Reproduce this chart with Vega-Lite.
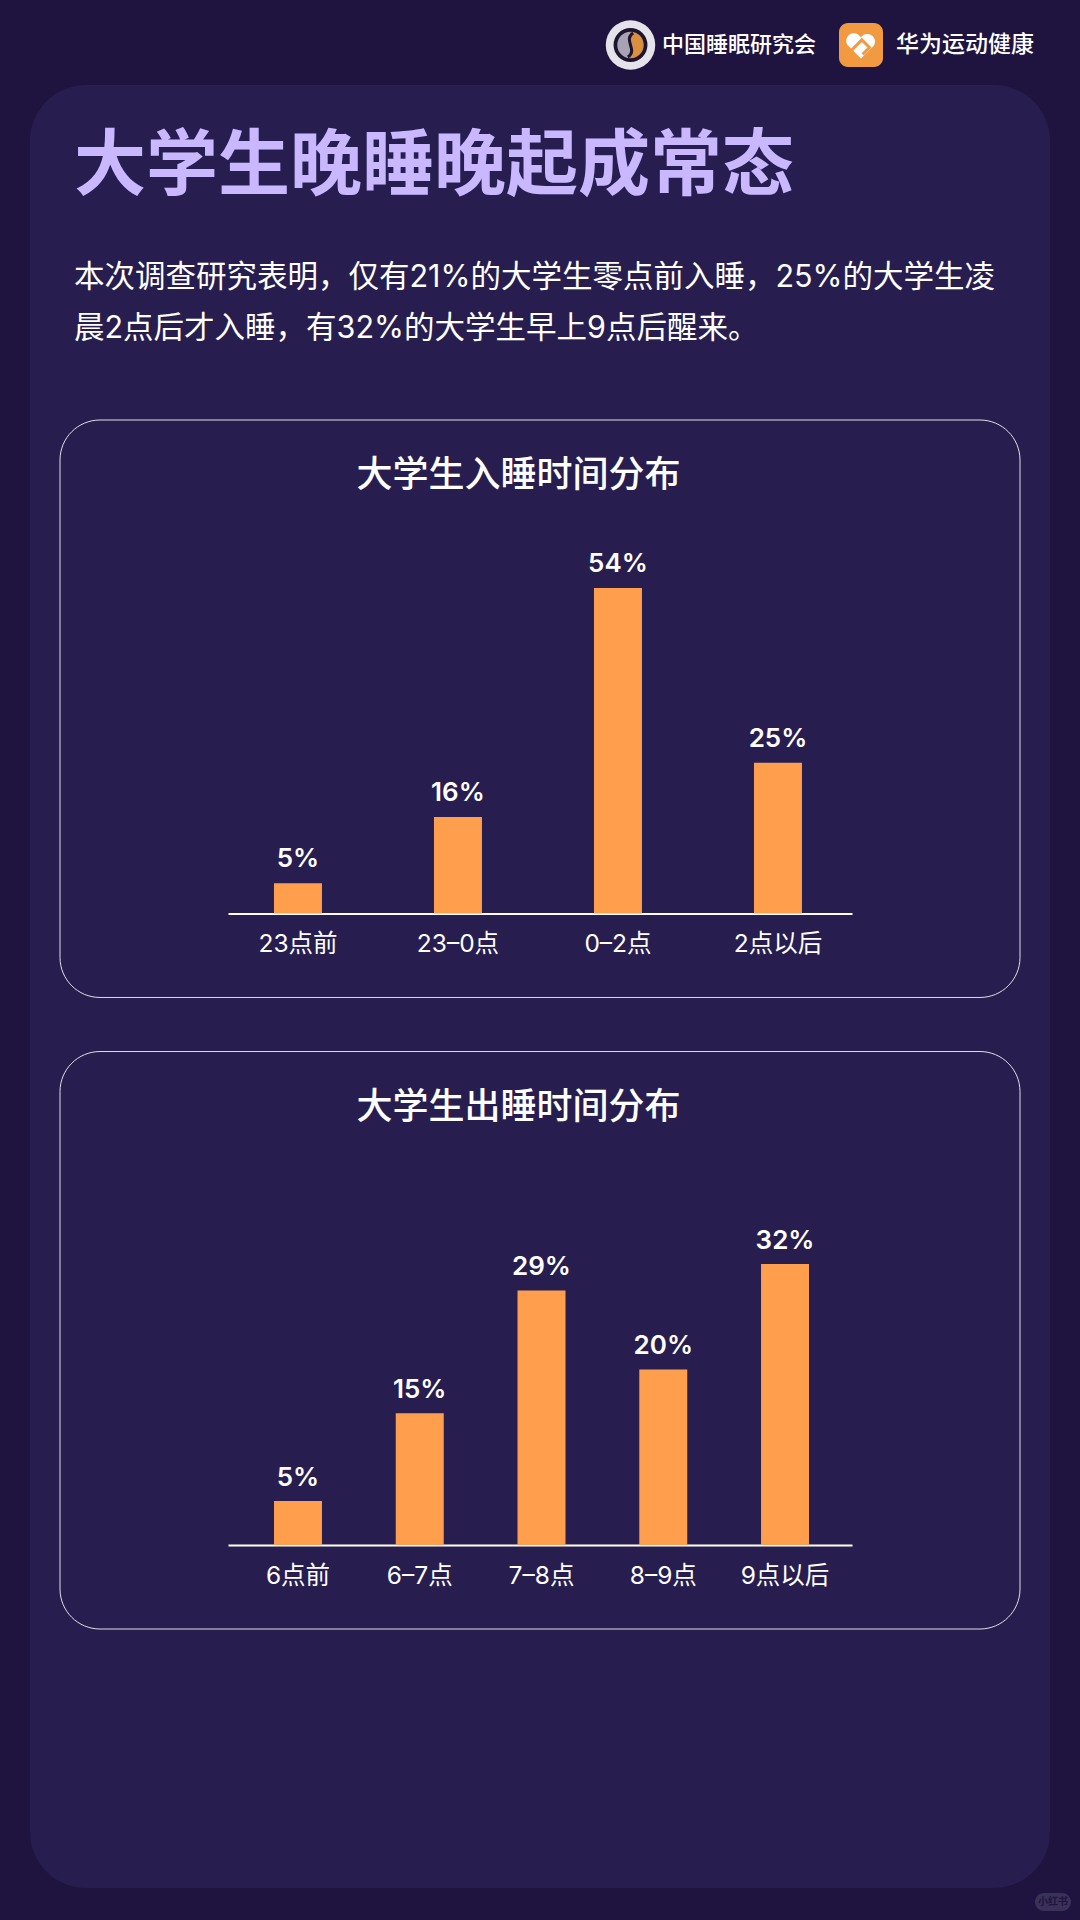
{
  "$schema": "https://vega.github.io/schema/vega-lite/v6.json",
  "width": 1020,
  "height": 1803,
  "autosize": {"type": "none"},
  "padding": {"left": 30, "right": 30, "top": 85, "bottom": 32},
  "background": "#1f1440",
  "view": {"fill": "#271e4f", "stroke": null, "cornerRadius": 56},
  "title": {
    "text": "大学生晚睡晚起成常态",
    "subtitle": ["本次调查研究表明，仅有21%的大学生零点前入睡，25%的大学生凌", "晨2点后才入睡，有32%的大学生早上9点后醒来。"],
    "anchor": "start",
    "frame": "group",
    "orient": "top",
    "offset": -325,
    "dx": 44,
    "font": "Noto Sans CJK SC",
    "fontSize": 72,
    "fontWeight": 700,
    "color": "#c9b8ff",
    "subtitleFont": "Inter, Noto Sans CJK SC",
    "subtitleFontSize": 30.5,
    "subtitleColor": "#ffffff",
    "subtitleLineHeight": 51,
    "subtitlePadding": 59
  },
  "config": {
    "font": "Inter, Noto Sans CJK SC",
    "axis": {
      "grid": false,
      "ticks": false,
      "domainColor": "#ffffff",
      "domainWidth": 2,
      "labelColor": "#ffffff",
      "labelFontSize": 24.5,
      "labelPadding": 19,
      "labelAngle": 0,
      "labelFont": "Inter, Noto Sans CJK SC",
      "titleColor": "#ffffff",
      "titleFontSize": 36,
      "titleFontWeight": 500,
      "titleFont": "Noto Sans CJK SC",
      "titleBaseline": "middle",
      "titleAlign": "center"
    }
  },
  "resolve": {
    "scale": {"x": "independent", "y": "independent", "size": "independent"},
    "axis": {"x": "independent", "y": "independent"}
  },
  "layer": [
    {
      "data": {"values": [{"card": "入睡", "frame": "卡片"}, {"card": "出睡", "frame": "卡片"}]},
      "mark": {"type": "rect", "fill": null, "stroke": "#ffffff", "strokeWidth": 1, "strokeOpacity": 0.85, "cornerRadius": 40},
      "encoding": {
        "x": {"field": "frame", "type": "nominal", "axis": null, "scale": {"type": "band", "range": [30, 990], "padding": 0}},
        "y": {"field": "card", "type": "nominal", "axis": null, "sort": null, "scale": {"type": "band", "range": [335, 1544], "paddingInner": 0.0856, "paddingOuter": 0}}
      }
    },
    {
      "data": {"values": [
        {"time": "23点前", "share": 0.05},
        {"time": "23–0点", "share": 0.16},
        {"time": "0–2点", "share": 0.54},
        {"time": "2点以后", "share": 0.25}
      ]},
      "encoding": {
        "x": {
          "field": "time",
          "type": "nominal",
          "sort": null,
          "scale": {"type": "band", "range": [198, 822], "paddingInner": 0.7, "paddingOuter": 0.3, "align": 0.479},
          "axis": {"title": "大学生入睡时间分布", "orient": "bottom", "offset": -974.5, "titleX": 488, "titleY": -438}
        },
        "y": {"field": "share", "type": "quantitative", "axis": null, "scale": {"domain": [0, 1], "range": [828.5, 225.5], "nice": false}}
      },
      "layer": [
        {"mark": {"type": "bar", "color": "#ff9f4d"}},
        {
          "mark": {"type": "text", "color": "#ffffff", "fontSize": 26, "fontWeight": 600, "baseline": "middle", "dy": -24},
          "encoding": {"text": {"field": "share", "type": "quantitative", "format": ".0%"}}
        }
      ]
    },
    {
      "data": {"values": [
        {"time": "6点前", "share": 0.05},
        {"time": "6–7点", "share": 0.15},
        {"time": "7–8点", "share": 0.29},
        {"time": "8–9点", "share": 0.20},
        {"time": "9点以后", "share": 0.32}
      ]},
      "encoding": {
        "x": {
          "field": "time",
          "type": "nominal",
          "sort": null,
          "scale": {"type": "band", "range": [198, 822], "paddingInner": 0.606, "paddingOuter": 0.3655, "align": 0.517},
          "axis": {"title": "大学生出睡时间分布", "orient": "bottom", "offset": -343, "titleX": 488, "titleY": -438}
        },
        "y": {"field": "share", "type": "quantitative", "axis": null, "scale": {"domain": [0, 1], "range": [1460, 582], "nice": false}}
      },
      "layer": [
        {"mark": {"type": "bar", "color": "#ff9f4d"}},
        {
          "mark": {"type": "text", "color": "#ffffff", "fontSize": 26, "fontWeight": 600, "baseline": "middle", "dy": -23},
          "encoding": {"text": {"field": "share", "type": "quantitative", "format": ".0%"}}
        }
      ]
    },
    {
      "data": {"values": [{"org": "中国睡眠研究会"}, {"org": "华为运动健康"}]},
      "mark": {"type": "text", "color": "#ffffff", "fontWeight": 500, "align": "left", "baseline": "middle"},
      "encoding": {
        "x": {"field": "org", "type": "nominal", "sort": null, "axis": null, "scale": {"type": "point", "padding": 0, "range": [632, 866]}},
        "y": {"field": "org", "type": "nominal", "axis": null, "scale": {"type": "point", "padding": 0, "range": [-40, -40]}},
        "size": {"field": "org", "type": "nominal", "sort": null, "legend": null, "scale": {"type": "ordinal", "range": [22, 23]}},
        "text": {"field": "org"}
      }
    },
    {
      "data": {"values": [{"org": "中国睡眠研究会"}]},
      "encoding": {
        "x": {"field": "org", "type": "nominal", "axis": null, "scale": {"type": "point", "padding": 0, "range": [600.5, 600.5]}},
        "y": {"field": "org", "type": "nominal", "axis": null, "scale": {"type": "point", "padding": 0, "range": [-40, -40]}}
      },
      "layer": [
        {"mark": {"type": "point", "shape": "circle", "filled": true, "color": "#e6e2ea", "size": 2450, "opacity": 1}},
        {"mark": {"type": "point", "shape": "circle", "filled": true, "color": "#1c1530", "size": 1150, "opacity": 1}},
        {"mark": {"type": "point", "shape": "M0,-1A1,1 0 0 0 0,1Z", "filled": true, "color": "#a8a2b4", "size": 700, "opacity": 1}},
        {"mark": {"type": "point", "shape": "M0,-1A1,1 0 0 1 0,1Z", "filled": true, "color": "#d98f3f", "size": 700, "opacity": 1}},
        {"mark": {"type": "point", "shape": "M0.2,-0.9C-0.6,-0.4 0.6,0.4 -0.2,0.9", "filled": false, "color": "#1c1530", "strokeWidth": 3, "size": 700, "opacity": 1}}
      ]
    },
    {
      "data": {"values": [{"org": "华为运动健康"}]},
      "encoding": {
        "x": {"field": "org", "type": "nominal", "axis": null, "scale": {"type": "band", "padding": 0, "range": [809, 853]}},
        "y": {"field": "org", "type": "nominal", "axis": null, "scale": {"type": "band", "padding": 0, "range": [-62, -18]}}
      },
      "layer": [
        {"mark": {"type": "rect", "fill": "#f19a42", "cornerRadius": 9}},
        {"mark": {"type": "point", "shape": "M0,0.8L-0.75,0.05A0.42,0.42 0 0 1 -0.1,-0.55L0,-0.45A0.42,0.42 0 0 1 0.75,0.05Z", "filled": true, "color": "#ffffff", "size": 1150, "opacity": 1}},
        {"mark": {"type": "point", "shape": "M-0.55,0.3L0.05,-0.3L0.5,0.15L0.1,0.55", "filled": false, "color": "#f19a42", "strokeWidth": 3, "size": 1150, "opacity": 1}}
      ]
    },
    {
      "data": {"values": [{"mark": "小红书"}]},
      "encoding": {
        "x": {"field": "mark", "type": "nominal", "axis": null, "scale": {"type": "band", "padding": 0, "range": [1005, 1041]}},
        "y": {"field": "mark", "type": "nominal", "axis": null, "scale": {"type": "band", "padding": 0, "range": [1808, 1826]}}
      },
      "layer": [
        {"mark": {"type": "rect", "fill": "#3a3158", "cornerRadius": 9}},
        {
          "mark": {"type": "text", "color": "#1f1440", "fontSize": 10, "fontWeight": 700},
          "encoding": {"text": {"field": "mark"}}
        }
      ]
    }
  ]
}
